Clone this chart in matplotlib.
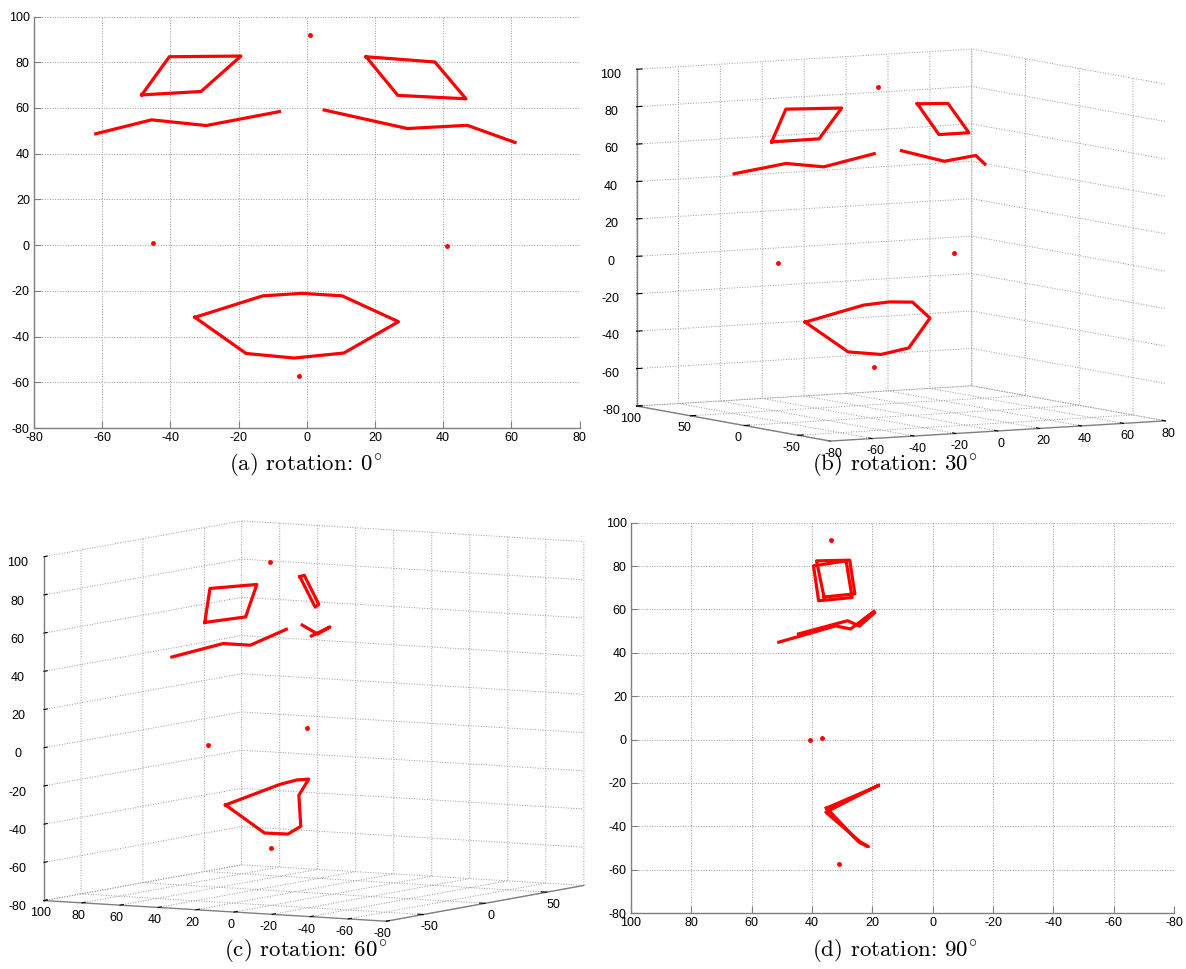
import numpy as np
import matplotlib
matplotlib.use('Agg')
import matplotlib.pyplot as plt

plt.rcParams['font.family'] = ['Liberation Sans', 'DejaVu Sans']
plt.rcParams['mathtext.fontset'] = 'cm'
plt.rcParams['axes.unicode_minus'] = False
plt.rcParams['grid.linestyle'] = ':'
plt.rcParams['grid.color'] = '#9a9a9a'
plt.rcParams['grid.linewidth'] = 0.7

# face landmarks: x = left/right, y = up/down, z = depth
left_eye_x = [-48.4, -40.3, -19.3, -31.0]
left_eye_y = [65.7, 82.4, 82.7, 67.2]
left_eye_z = [36.0, 38.5, 27.5, 25.8]

right_eye_x = [17.4, 37.6, 46.7, 26.7]
right_eye_y = [82.4, 80.1, 64.0, 65.5]
right_eye_z = [28.7, 39.5, 37.8, 26.7]

left_brow_x = [-61.9, -45.5, -29.5, -8.0]
left_brow_y = [48.7, 54.8, 52.3, 58.4]
left_brow_z = [44.5, 28.2, 24.3, 19.3]

right_brow_x = [5.1, 29.5, 47.1, 61.1]
right_brow_y = [59.1, 51.0, 52.4, 44.9]
right_brow_z = [19.5, 27.2, 32.2, 51.0]

mouth_x = [-32.8, -12.9, -1.5, 10.4, 26.9, 10.9, -3.7, -17.8]
mouth_y = [-31.6, -22.2, -21.1, -22.2, -33.5, -47.2, -49.4, -47.4]
mouth_z = [35.2, 19.5, 17.9, 19.5, 35.4, 24.0, 21.3, 24.4]

# single points: forehead, left cheek, right cheek, chin
dots_x = [1.0, -45.2, 41.1, -2.2]
dots_y = [91.9, 0.9, -0.3, -57.3]
dots_z = [33.7, 36.6, 40.5, 31.2]

rotations = [0, 30, 60, 90]
captions = ['(a)', '(b)', '(c)', '(d)']

features = [
    (left_eye_x, left_eye_y, left_eye_z, True),
    (right_eye_x, right_eye_y, right_eye_z, True),
    (left_brow_x, left_brow_y, left_brow_z, False),
    (right_brow_x, right_brow_y, right_brow_z, False),
    (mouth_x, mouth_y, mouth_z, True),
]

W, H = 1186, 969
fig = plt.figure(figsize=(W / 100, H / 100), dpi=100)


def rect(l, t, r, b):
    return [l / W, 1 - b / H, (r - l) / W, (b - t) / H]


def closed(v, close):
    v = np.asarray(v, dtype=float)
    return np.append(v, v[0]) if close else v


def style_2d(ax):
    for s in ['top', 'right']:
        ax.spines[s].set_visible(False)
    for s in ['left', 'bottom']:
        ax.spines[s].set_color('#7f7f7f')
        ax.spines[s].set_linewidth(1.0)
    ax.tick_params(direction='in', length=5, color='#7f7f7f', labelsize=9, pad=3)
    ax.set_yticks(np.arange(-80, 101, 20))
    ax.set_ylim(-80, 100)
    ax.grid(True)
    ax.set_axisbelow(True)


def style_3d(ax, azim, zoom):
    ax.set_proj_type('ortho')
    ax.view_init(elev=6, azim=azim)
    ax.set_box_aspect((4, 4, 3.5), zoom=zoom)
    ax.set_xlim(-80, 80)
    ax.set_ylim(-80, 100)
    ax.set_zlim(-80, 100)
    ax.set_zticks(np.arange(-80, 101, 20))
    for axis in [ax.xaxis, ax.yaxis, ax.zaxis]:
        axis.set_pane_color((1, 1, 1, 0))
        axis.line.set_color('#7f7f7f')
        axis.line.set_linewidth(1.0)
        axis._axinfo['tick']['inward_factor'] = 0.0
        axis._axinfo['tick']['outward_factor'] = 0.2
        axis._axinfo['tick']['color'] = '#7f7f7f'
    ax.tick_params(axis='x', labelsize=9, pad=-5)
    ax.tick_params(axis='y', labelsize=9, pad=-5)
    ax.tick_params(axis='z', labelsize=9, pad=0)


# (a) rotation 0: x horizontal
ax = fig.add_axes(rect(34, 16.5, 579.5, 428))
for fx, fy, fz, c in features:
    ax.plot(closed(fx, c), closed(fy, c), color='red', lw=2.3)
ax.plot(dots_x, dots_y, '.', color='red', ms=5)
ax.set_xlim(-80, 80)
ax.set_xticks(np.arange(-80, 81, 20))
style_2d(ax)

# (d) rotation 90: depth horizontal, reversed
ax = fig.add_axes(rect(631, 522.7, 1174, 913))
for fx, fy, fz, c in features:
    ax.plot(closed(fz, c), closed(fy, c), color='red', lw=2.3)
ax.plot(dots_z, dots_y, '.', color='red', ms=5)
ax.set_xlim(100, -80)
ax.set_xticks(np.arange(-80, 101, 20))
style_2d(ax)

# (b) rotation 30 and (c) rotation 60: 3-D views
ax = fig.add_axes(rect(602, 31, 1188, 471), projection='3d')
for fx, fy, fz, c in features:
    ax.plot(closed(fx, c), closed(fz, c), closed(fy, c), color='red', lw=2.3)
ax.plot(dots_x, dots_z, dots_y, '.', color='red', ms=5)
style_3d(ax, -90 - rotations[1], 1.42)
ax.set_xticks(np.arange(-80, 81, 20))
ax.set_yticks([-50, 0, 50, 100])

ax = fig.add_axes(rect(8, 507, 608, 947), projection='3d')
for fx, fy, fz, c in features:
    ax.plot(closed(fx, c), closed(fz, c), closed(fy, c), color='red', lw=2.3)
ax.plot(dots_x, dots_z, dots_y, '.', color='red', ms=5)
style_3d(ax, -90 - rotations[2], 1.45)
ax.set_xticks([-50, 0, 50])
ax.set_yticks(np.arange(-80, 101, 20))

cap_pos = [(306, 465), (895, 465), (306, 950), (895, 950)]
for lab, rot, (cx, cy) in zip(captions, rotations, cap_pos):
    fig.text(cx / W, 1 - cy / H, lab + ' rotation: $' + str(rot) + r'^{\!\circ}$',
             fontfamily='cmr10', fontsize=16.5, ha='center', va='center')

fig.savefig('out.png', dpi=100)
